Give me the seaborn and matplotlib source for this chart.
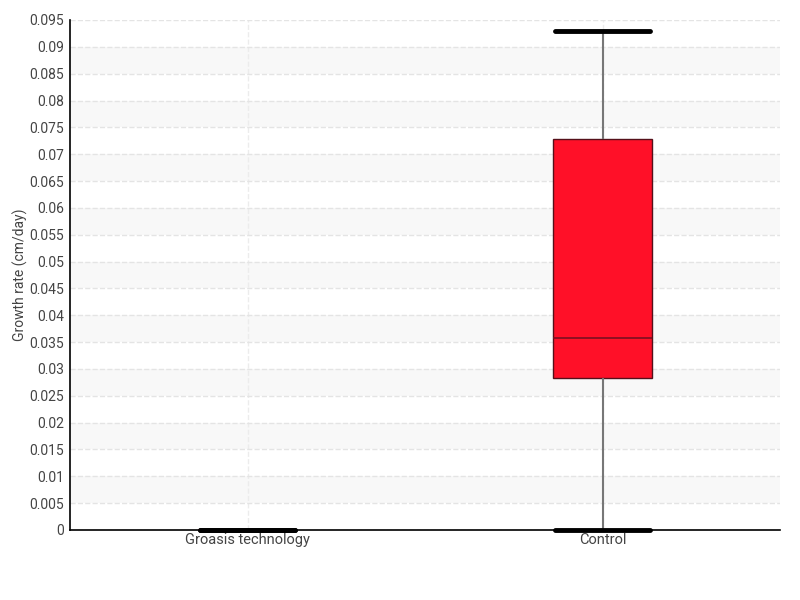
import numpy as np
import pandas as pd
import matplotlib
matplotlib.use("Agg")
import matplotlib.pyplot as plt
import seaborn as sns
from matplotlib.ticker import MultipleLocator

categories = ["Groasis technology", "Control"]
groasis_values = [0.0, 0.0, 0.0, 0.0, 0.0]
control_values = [0.0, 0.0283, 0.0358, 0.0728, 0.093]

df = pd.DataFrame({
    "group": [categories[0]] * len(groasis_values) + [categories[1]] * len(control_values),
    "rate": groasis_values + control_values,
})

sns.set_style("white")
plt.rcParams["font.family"] = ["Roboto", "DejaVu Sans"]

fig = plt.figure(figsize=(8, 6), dpi=100)
ax = fig.add_axes([0.0875, 0.1167, 0.8875, 0.85])

# alternating bands
for lo in np.arange(0.005, 0.095, 0.01):
    ax.axhspan(lo, lo + 0.005, color="#f8f8f8", zorder=0, lw=0)

sns.boxplot(data=df, x="group", y="rate", order=categories, ax=ax,
            width=0.28, whis=(0, 100), color="#ff1028", saturation=1,
            boxprops=dict(edgecolor="#55101a", linewidth=1),
            medianprops=dict(color="#7a1020", linewidth=1.2),
            whiskerprops=dict(color="#777777", linewidth=1.5),
            capprops=dict(color="black", linewidth=3),
            zorder=3)

# caps as wide as the box
for c in ax.containers:
    for i, cap in enumerate(c.caps):
        pos = i // 2
        cap.set_xdata([pos - 0.133, pos + 0.133])
        cap.set_clip_on(False)
        cap.set_zorder(5)
        cap.set_linewidth(3.5)

ax.set_xlim(-0.5, 1.5)
ax.set_ylim(0, 0.095)
ticks = np.round(np.arange(0, 0.0951, 0.005), 3)
ax.set_yticks(ticks)
ax.set_yticklabels(["%g" % v for v in ticks])
ax.yaxis.set_minor_locator(MultipleLocator(0.0025))

ax.grid(axis="y", which="major", color="#e4e4e4", linestyle="--", linewidth=1)
ax.grid(axis="x", color="#ececec", linestyle="--", linewidth=1)
ax.set_axisbelow(True)

for s in ["top", "right"]:
    ax.spines[s].set_visible(False)
for s in ["left", "bottom"]:
    ax.spines[s].set_color("black")
    ax.spines[s].set_linewidth(1.2)

ax.tick_params(axis="y", which="major", direction="inout", length=5, width=1,
               color="black", labelsize=10, labelcolor="#444444", pad=2)
ax.tick_params(axis="y", which="minor", direction="inout", length=4, width=1,
               color="#ff4040")
ax.tick_params(axis="x", length=0, labelsize=10.5, labelcolor="#444444", pad=2)

ax.set_xlabel("")
ax.set_ylabel("Growth rate (cm/day)", fontsize=10, color="#444444", labelpad=1)

plt.savefig("out.png", dpi=100)
